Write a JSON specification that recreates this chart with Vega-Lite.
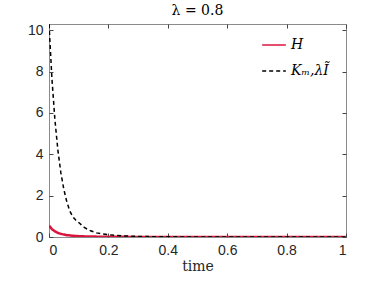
{
  "$schema": "https://vega.github.io/schema/vega-lite/v6.json",
  "width": 297,
  "height": 213,
  "autosize": {"type": "none"},
  "padding": {"left": 49, "top": 24, "right": 36, "bottom": 49},
  "background": "white",
  "title": {"text": "λ = 0.8", "font": "DejaVu Serif, Liberation Serif, serif", "fontSize": 14, "fontWeight": "normal", "fontStyle": "normal", "color": "#000", "offset": 5},
  "config": {"view": {"stroke": "#8a8a8a", "strokeWidth": 1}},
  "datasets": {
    "h": [
      {"t": 0, "v": 0.55, "s": "H"}, {"t": 0.01, "v": 0.38, "s": "H"}, {"t": 0.02, "v": 0.27, "s": "H"},
      {"t": 0.03, "v": 0.2, "s": "H"}, {"t": 0.04, "v": 0.15, "s": "H"}, {"t": 0.05, "v": 0.12, "s": "H"},
      {"t": 0.06, "v": 0.09, "s": "H"}, {"t": 0.08, "v": 0.06, "s": "H"}, {"t": 0.1, "v": 0.04, "s": "H"},
      {"t": 0.12, "v": 0.03, "s": "H"}, {"t": 0.15, "v": 0.02, "s": "H"}, {"t": 0.2, "v": 0.01, "s": "H"},
      {"t": 0.3, "v": 0.004, "s": "H"}, {"t": 0.4, "v": 0.001, "s": "H"}, {"t": 0.5, "v": 0, "s": "H"},
      {"t": 0.6, "v": 0, "s": "H"}, {"t": 0.7, "v": 0, "s": "H"}, {"t": 0.8, "v": 0, "s": "H"},
      {"t": 0.9, "v": 0, "s": "H"}, {"t": 1, "v": 0, "s": "H"}
    ],
    "k": [
      {"t": 0, "v": 10.3, "s": "Kₘ,λĨ"}, {"t": 0.01, "v": 7.63, "s": "Kₘ,λĨ"}, {"t": 0.02, "v": 5.65, "s": "Kₘ,λĨ"},
      {"t": 0.03, "v": 4.19, "s": "Kₘ,λĨ"}, {"t": 0.04, "v": 3.1, "s": "Kₘ,λĨ"}, {"t": 0.05, "v": 2.3, "s": "Kₘ,λĨ"},
      {"t": 0.06, "v": 1.7, "s": "Kₘ,λĨ"}, {"t": 0.07, "v": 1.26, "s": "Kₘ,λĨ"}, {"t": 0.08, "v": 0.98, "s": "Kₘ,λĨ"},
      {"t": 0.09, "v": 0.82, "s": "Kₘ,λĨ"}, {"t": 0.1, "v": 0.7, "s": "Kₘ,λĨ"}, {"t": 0.12, "v": 0.45, "s": "Kₘ,λĨ"},
      {"t": 0.14, "v": 0.3, "s": "Kₘ,λĨ"}, {"t": 0.16, "v": 0.2, "s": "Kₘ,λĨ"}, {"t": 0.18, "v": 0.15, "s": "Kₘ,λĨ"},
      {"t": 0.2, "v": 0.11, "s": "Kₘ,λĨ"}, {"t": 0.22, "v": 0.085, "s": "Kₘ,λĨ"}, {"t": 0.25, "v": 0.055, "s": "Kₘ,λĨ"},
      {"t": 0.3, "v": 0.03, "s": "Kₘ,λĨ"}, {"t": 0.35, "v": 0.015, "s": "Kₘ,λĨ"}, {"t": 0.4, "v": 0.008, "s": "Kₘ,λĨ"},
      {"t": 0.5, "v": 0.002, "s": "Kₘ,λĨ"}, {"t": 0.6, "v": 0, "s": "Kₘ,λĨ"}, {"t": 0.7, "v": 0, "s": "Kₘ,λĨ"},
      {"t": 0.8, "v": 0, "s": "Kₘ,λĨ"}, {"t": 0.9, "v": 0, "s": "Kₘ,λĨ"}, {"t": 1, "v": 0, "s": "Kₘ,λĨ"}
    ]
  },
  "resolve": {"axis": {"x": "independent", "y": "independent"}},
  "layer": [
    {
      "data": {"name": "h"},
      "mark": {"type": "line", "strokeWidth": 2.5, "clip": true},
      "encoding": {
        "x": {"field": "t", "type": "quantitative", "scale": {"domain": [0, 1], "nice": false},
          "axis": {"orient": "bottom", "values": [0, 0.2, 0.4, 0.6, 0.8, 1], "format": "~g", "tickSize": -4, "tickColor": "#444", "domain": false, "grid": false, "labelPadding": 10, "labelFont": "Liberation Sans, Arial, Helvetica, sans-serif", "labelFontSize": 14, "labelColor": "#262626", "title": "time", "titleFont": "DejaVu Serif, Liberation Serif, serif", "titleFontSize": 14, "titleFontWeight": "normal", "titleColor": "#262626", "titlePadding": 2}},
        "y": {"field": "v", "type": "quantitative", "scale": {"domain": [0, 10.3], "nice": false, "zero": true},
          "axis": {"orient": "left", "values": [0, 2, 4, 6, 8, 10], "tickSize": -4, "tickColor": "#444", "domain": false, "grid": false, "labelPadding": 10, "labelFont": "Liberation Sans, Arial, Helvetica, sans-serif", "labelFontSize": 14, "labelColor": "#262626", "title": null}},
        "color": {"field": "s", "type": "nominal", "scale": {"domain": ["H", "Kₘ,λĨ"], "range": ["#DC143C", "#000000"]},
          "legend": {"title": null, "orient": "none", "legendX": 212, "legendY": 8, "symbolType": "stroke", "symbolSize": 560, "symbolStrokeWidth": 1.5, "labelFont": "DejaVu Serif, Liberation Serif, serif", "labelFontStyle": "italic", "labelFontSize": 14, "labelColor": "#000", "rowPadding": 6, "labelOffset": 4}},
        "strokeDash": {"field": "s", "type": "nominal", "scale": {"domain": ["H", "Kₘ,λĨ"], "range": [[1, 0], [4, 3]]}, "legend": null}
      }
    },
    {
      "data": {"name": "k"},
      "mark": {"type": "line", "strokeWidth": 1.5, "clip": true},
      "encoding": {
        "x": {"field": "t", "type": "quantitative", "scale": {"domain": [0, 1], "nice": false},
          "axis": {"orient": "top", "values": [0, 0.2, 0.4, 0.6, 0.8, 1], "tickSize": -4, "tickColor": "#444", "domain": false, "grid": false, "labels": false, "title": null}},
        "y": {"field": "v", "type": "quantitative", "scale": {"domain": [0, 10.3], "nice": false},
          "axis": {"orient": "right", "values": [0, 2, 4, 6, 8, 10], "tickSize": -4, "tickColor": "#444", "domain": false, "grid": false, "labels": false, "title": null}},
        "color": {"field": "s", "type": "nominal", "scale": {"domain": ["H", "Kₘ,λĨ"], "range": ["#DC143C", "#000000"]}},
        "strokeDash": {"field": "s", "type": "nominal", "scale": {"domain": ["H", "Kₘ,λĨ"], "range": [[1, 0], [4, 3]]}, "legend": null}
      }
    }
  ]
}
